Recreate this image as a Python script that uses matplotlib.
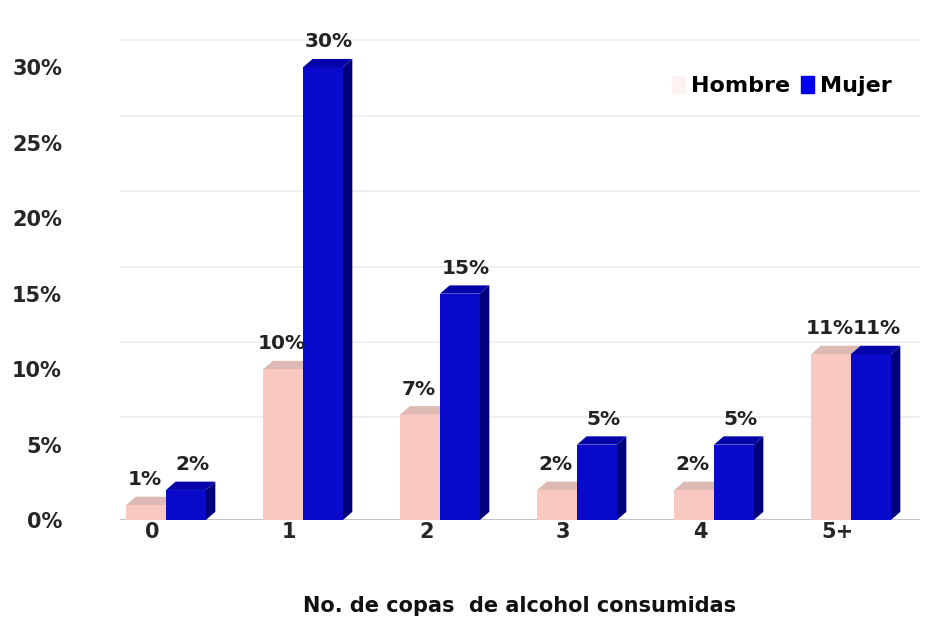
import matplotlib.pyplot as plt
from matplotlib.patches import Polygon

# porcentaje de copas consumidas por sexo
categorias = ["0", "1", "2", "3", "4", "5+"]
hombre = [1, 10, 7, 2, 2, 11]
mujer = [2, 30, 15, 5, 5, 11]

plt.rcParams['font.family'] = ['DejaVu Sans']

color_hombre = "#f9c8c0"
lado_hombre = "#e8aaa2"
top_hombre = "#dcbab3"
color_mujer = "#0a0acc"
lado_mujer = "#00007c"
top_mujer = "#0404a8"

ancho = 0.29
dx = 0.07      # profundidad horizontal del efecto 3d
dy = 0.55      # profundidad vertical (en %)
pared = 1.8    # desplazamiento de la pared del fondo


def barra_3d(ax, x, v, cara, lado, tapa):
    ax.add_patch(Polygon([(x, 0), (x + ancho, 0), (x + ancho, v), (x, v)],
                         closed=True, facecolor=cara, edgecolor="none", zorder=3))
    ax.add_patch(Polygon([(x + ancho, 0), (x + ancho + dx, dy),
                          (x + ancho + dx, v + dy), (x + ancho, v)],
                         closed=True, facecolor=lado, edgecolor="none", zorder=2))
    ax.add_patch(Polygon([(x, v), (x + ancho, v), (x + ancho + dx, v + dy),
                          (x + dx, v + dy)],
                         closed=True, facecolor=tapa, edgecolor="none", zorder=3))


fig = plt.figure(figsize=(9.26, 6.17), dpi=100)
ax = fig.add_axes([0.13, 0.157, 0.863, 0.827])

# lineas de la pared del fondo, muy tenues
for t in range(5, 35, 5):
    ax.axhline(t + pared, color="#ececec", lw=1.2, zorder=0)

for i in range(len(categorias)):
    centro = i + 0.1
    xh = centro - ancho
    xm = centro
    barra_3d(ax, xh, hombre[i], color_hombre, lado_hombre, top_hombre)
    barra_3d(ax, xm, mujer[i], color_mujer, lado_mujer, top_mujer)
    ax.text(xh + ancho / 2 - 0.01, hombre[i] + dy + 0.5, f"{hombre[i]}%",
            ha="center", va="bottom", fontsize=14.5, fontweight="bold",
            color="#222222", zorder=4)
    ax.text(xm + (ancho + dx) / 2 + 0.01, mujer[i] + dy + 0.5, f"{mujer[i]}%",
            ha="center", va="bottom", fontsize=14.5, fontweight="bold",
            color="#222222", zorder=4)

# sombra del piso
ax.axhline(0, color="#bbbbbb", lw=2, zorder=1)

ax.set_xlim(-0.233, 5.6)
ax.set_ylim(0, 33.8)
ax.set_yticks(range(0, 35, 5))
ax.set_yticklabels([f"{t}%" for t in range(0, 35, 5)])
ax.set_xticks(range(len(categorias)))
ax.set_xticklabels(categorias)
ax.tick_params(length=0, labelsize=15, labelcolor="#262626")
ax.tick_params(axis="x", pad=1)
ax.tick_params(axis="y", pad=42)
for lbl in ax.get_xticklabels() + ax.get_yticklabels():
    lbl.set_fontweight("bold")
for s in ax.spines.values():
    s.set_visible(False)

ax.set_xlabel("No. de copas  de alcohol consumidas", fontsize=15,
              fontweight="bold", color="#111111", labelpad=39)

# leyenda
h1 = plt.Rectangle((0, 0), 1, 1, color="#fdf3f2")
h2 = plt.Rectangle((0, 0), 1, 1, color="#0000ee")
ax.legend([h1, h2], ["Hombre", "Mujer"], loc="upper right", ncol=2,
          frameon=False, prop={"weight": "bold", "size": 16},
          handlelength=0.6, handleheight=0.8, handletextpad=0.25,
          columnspacing=0.5, bbox_to_anchor=(0.99, 0.91))

fig.savefig("out.png", dpi=100)
